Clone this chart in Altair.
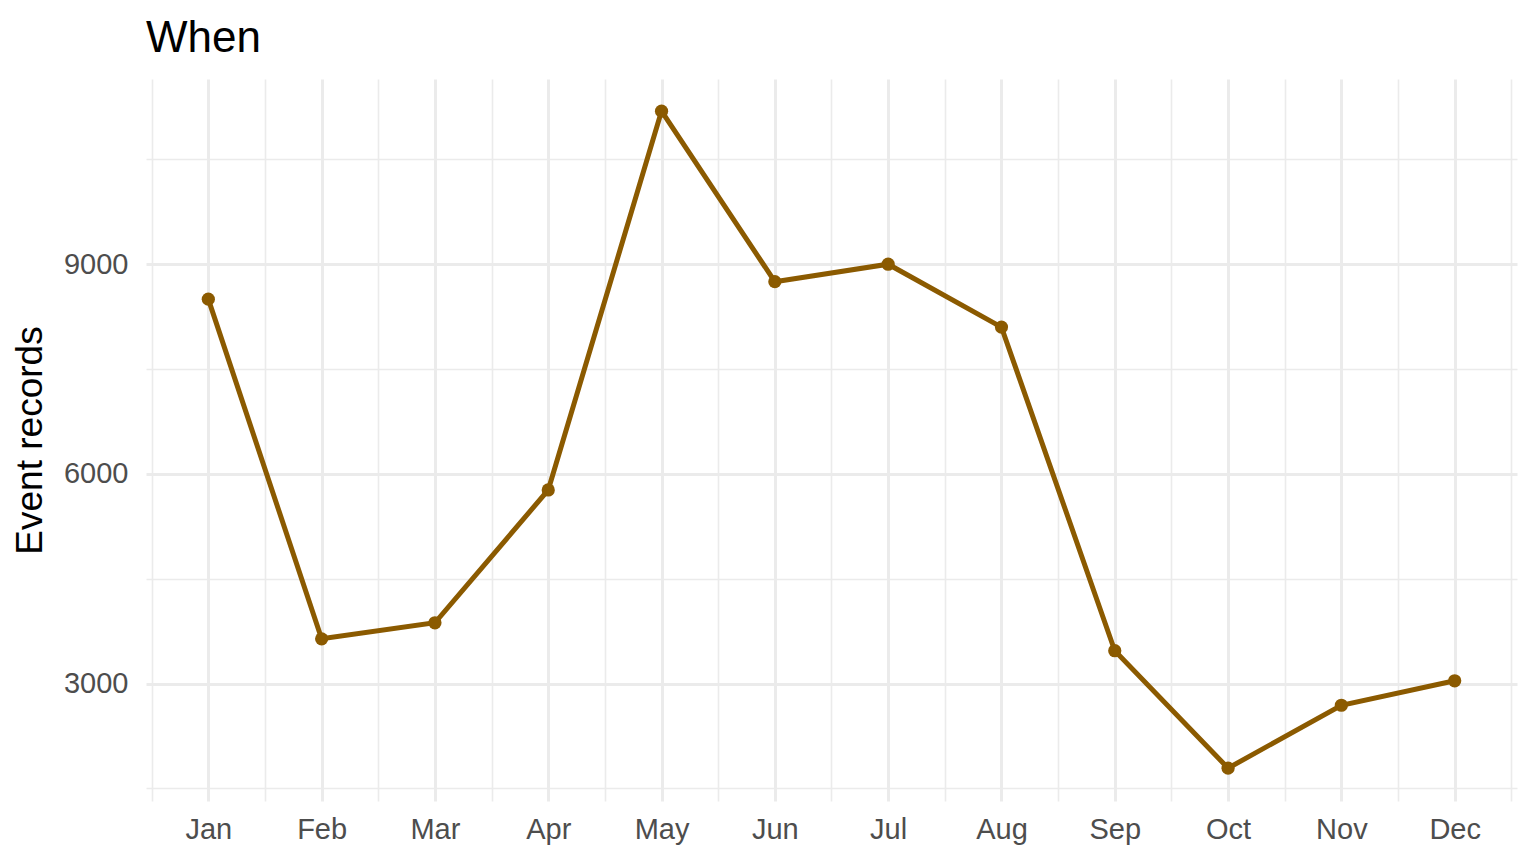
import altair as alt
import pandas as pd

months = ["Jan", "Feb", "Mar", "Apr", "May", "Jun", "Jul", "Aug", "Sep", "Oct", "Nov", "Dec"]
month_num = list(range(1, 13))
records = [8500, 3640, 3870, 5770, 11190, 8750, 9000, 8100, 3470, 1790, 2690, 3040]

x_ticks = [0.5 + 0.5 * i for i in range(25)]
y_ticks = [1500, 3000, 4500, 6000, 7500, 9000, 10500]

df = pd.DataFrame({"m": month_num, "month": months, "records": records})

month_js = "[" + ",".join(f"'{m}'" for m in months) + "]"

grid_color = "#EBEBEB"
label_color = "#4D4D4D"
font = "Liberation Sans"

x_enc = alt.X(
    "m:Q",
    scale=alt.Scale(domain=[0.45, 12.55], nice=False, zero=False),
    axis=alt.Axis(
        values=x_ticks,
        labelExpr=f"datum.value % 1 === 0 ? {month_js}[datum.value - 1] : ''",
        title=None,
        grid=True,
        gridColor=grid_color,
        gridWidth={"condition": {"test": "datum.value % 1 === 0", "value": 3}, "value": 1.6},
        ticks=False,
        domain=False,
        labelFontSize=29,
        labelColor=label_color,
        labelFont=font,
        labelPadding=14,
        labelOverlap=False,
        labelFlush=False,
    ),
)

y_enc = alt.Y(
    "records:Q",
    scale=alt.Scale(domain=[1320, 11650], nice=False, zero=False),
    axis=alt.Axis(
        values=y_ticks,
        format="d",
        labelExpr="datum.value % 3000 === 0 ? datum.label : ''",
        title="Event records",
        titleFontSize=37,
        titleFontWeight="normal",
        titleFont=font,
        titleColor="black",
        titlePadding=14,
        grid=True,
        gridColor=grid_color,
        gridWidth={"condition": {"test": "datum.value % 3000 === 0", "value": 3}, "value": 1.6},
        ticks=False,
        domain=False,
        labelFontSize=29,
        labelColor=label_color,
        labelFont=font,
        labelPadding=18,
        labelOverlap=False,
        labelFlush=False,
    ),
)

base = alt.Chart(df).encode(x=x_enc, y=y_enc)
line = base.mark_line(color="#8B5A00", strokeWidth=5)
pts = base.mark_circle(color="#8B5A00", size=175, opacity=1)

chart = (
    alt.layer(line, pts)
    .properties(
        width=1371,
        height=722,
        background="white",
        title=alt.TitleParams(
            "When",
            anchor="start",
            frame="group",
            fontSize=44,
            font=font,
            fontWeight="normal",
            color="black",
            offset=18,
        ),
        autosize=alt.AutoSizeParams(type="none"),
        padding={"left": 138, "top": 71, "right": 10, "bottom": 60},
    )
    .configure_view(strokeWidth=0, stroke="transparent")
)

chart.save("out.html", embed_options={"renderer": "svg", "actions": False})
